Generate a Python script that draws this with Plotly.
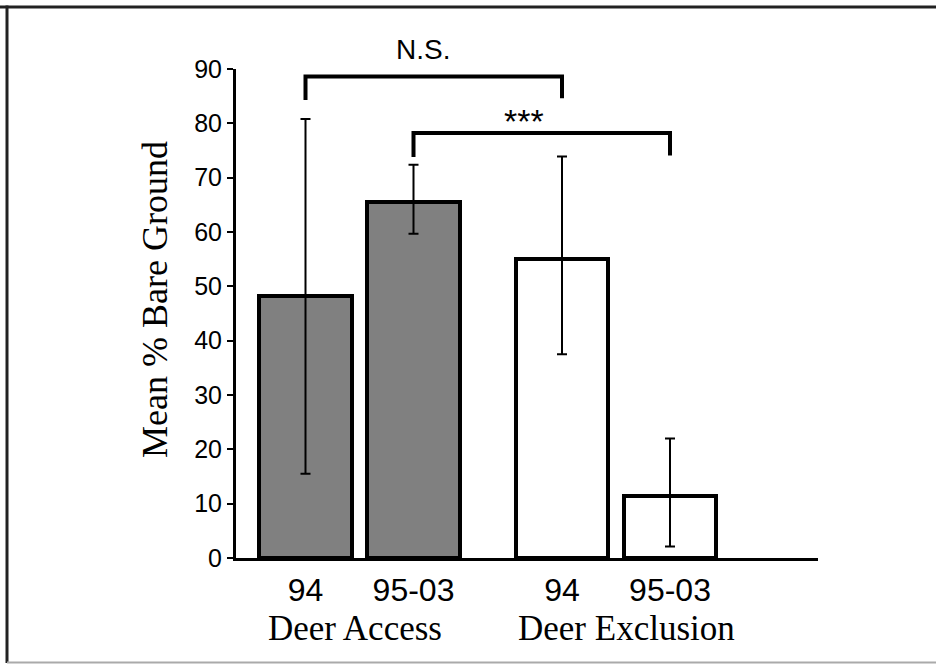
import plotly.graph_objects as go

# ---- data ----
groups = ["Deer Access", "Deer Exclusion"]
periods = ["94", "95-03"]
bar_group = [0, 0, 1, 1]
bar_period = [0, 1, 0, 1]
means = [48.2, 65.6, 55.1, 11.5]
err_up = [80.8, 72.4, 73.9, 22.0]
err_low = [15.5, 59.7, 37.5, 2.1]
fills = ["#808080", "#808080", "#ffffff", "#ffffff"]
y_ticks = [0, 10, 20, 30, 40, 50, 60, 70, 80, 90]
# brackets: label, bar a, bar b, top, left leg bottom, right leg bottom
brackets = [
    ("N.S.", 0, 2, 88.6, 84.3, 84.6),
    ("***", 1, 3, 78.2, 73.8, 74.1),
]

# ---- layout helpers ----
W, H = 936, 664
L, R, T, B = 236, 118, 69, 106
PW, PH = W - L - R, H - T - B
GROUP_GAP = 0.375
pos = [i + GROUP_GAP * g for i, g in enumerate(bar_group)]


def px_x(px):
    return (px - L) / PW


def px_y(py):
    return (H - B - py) / PH


SERIF = "Times New Roman, Liberation Serif, serif"
SANS = "Arial, Liberation Sans, sans-serif"

fig = go.Figure()
fig.add_trace(go.Bar(
    x=pos, y=means, width=0.86,
    marker=dict(color=fills, line=dict(color="black", width=4)),
    error_y=dict(type="data", symmetric=False,
                 array=[u - m for u, m in zip(err_up, means)],
                 arrayminus=[m - l for m, l in zip(means, err_low)],
                 color="black", thickness=2, width=5),
    showlegend=False, hoverinfo="skip",
))

for label, a, b, top, la, lb in brackets:
    xa, xb = pos[a], pos[b]
    fig.add_trace(go.Scatter(
        x=[xa, xa, xb, xb], y=[la, top, top, lb], mode="lines",
        line=dict(color="black", width=4), cliponaxis=False,
        showlegend=False, hoverinfo="skip",
    ))

# bracket labels
fig.add_annotation(x=(pos[0] + pos[2]) / 2, xref="x", y=px_y(49), yref="paper",
                   xshift=-11, text="N.S.",
                   showarrow=False, font=dict(family=SANS, size=28, color="black"),
                   xanchor="center", yanchor="middle")
fig.add_annotation(x=(pos[1] + pos[3]) / 2, xref="x", y=px_y(121), yref="paper",
                   xshift=-18, text="***",
                   showarrow=False, font=dict(family=SANS, size=34, color="black"),
                   xanchor="center", yanchor="middle")

# group labels
shifts = [-4.5, 10]
for g, name in enumerate(groups):
    members = [p for p, bg in zip(pos, bar_group) if bg == g]
    fig.add_annotation(x=sum(members) / len(members), xref="x", y=px_y(628), yref="paper",
                       xshift=shifts[g], text=name, showarrow=False,
                       font=dict(family=SERIF, size=35, color="black"),
                       xanchor="center", yanchor="middle")

# y title
fig.add_annotation(x=px_x(155), y=px_y(300), xref="paper", yref="paper",
                   text="Mean % Bare Ground", textangle=-90, showarrow=False,
                   font=dict(family=SERIF, size=36, color="black"),
                   xanchor="center", yanchor="middle")

# frame lines
fig.add_shape(type="line", xref="paper", yref="paper", x0=px_x(0), x1=px_x(W),
              y0=px_y(7), y1=px_y(7), line=dict(color="#222222", width=3))
fig.add_shape(type="line", xref="paper", yref="paper", x0=px_x(7), x1=px_x(7),
              y0=px_y(5.5), y1=px_y(663), line=dict(color="#222222", width=3))
fig.add_shape(type="line", xref="paper", yref="paper", x0=px_x(7), x1=px_x(W),
              y0=px_y(662.5), y1=px_y(662.5), line=dict(color="#aaaaaa", width=2))

fig.update_layout(
    width=W, height=H,
    margin=dict(l=L, r=R, t=T, b=B),
    paper_bgcolor="white", plot_bgcolor="white",
    xaxis=dict(range=[(L - 305.5) / 108, (L + PW - 305.5) / 108],
               tickvals=pos, ticktext=[periods[p] for p in bar_period],
               tickfont=dict(family=SANS, size=32, color="black"),
               showgrid=False, zeroline=False, showline=True,
               linecolor="black", linewidth=3, ticks="", ticklabelstandoff=2),
    yaxis=dict(range=[0, 90], tickvals=y_ticks,
               tickfont=dict(family=SANS, size=25, color="black"),
               showgrid=False, zeroline=False, showline=True,
               linecolor="black", linewidth=3, ticks="outside",
               ticklen=6, tickwidth=2, tickcolor="black"),
    bargap=0,
)

fig.write_html("out.html", config={"displayModeBar": False},
               post_script="document.body.style.margin='0';document.body.style.overflow='hidden';")
